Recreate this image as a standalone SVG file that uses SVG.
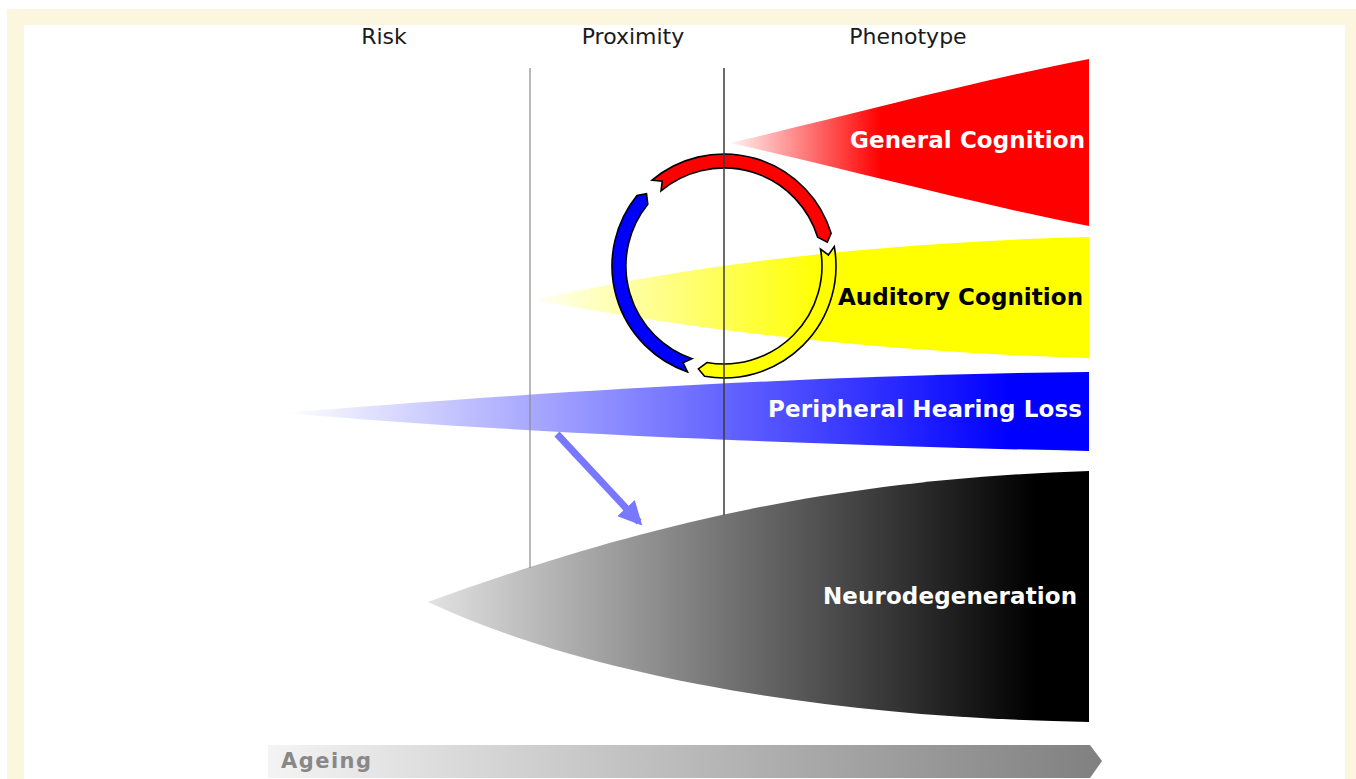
<svg xmlns="http://www.w3.org/2000/svg" width="1356" height="779" viewBox="0 0 1356 779">
<defs>
<style>
.hdr{font-family:"DejaVu Sans",Verdana,sans-serif;font-size:22px;fill:#1a1a1a;text-anchor:middle}
.lbl{font-family:"DejaVu Sans",Verdana,sans-serif;font-size:23px;font-weight:bold;text-anchor:end}
.arc{stroke:#000;stroke-width:1.6;stroke-linejoin:miter}
.vline{stroke-width:2;fill:none}
</style>
<linearGradient id="gRed" gradientUnits="userSpaceOnUse" x1="730" y1="0" x2="1089" y2="0">
<stop offset="0" stop-color="#fff4f4"/><stop offset="0.42" stop-color="#ff0000"/><stop offset="1" stop-color="#ff0000"/>
</linearGradient>
<linearGradient id="gYel" gradientUnits="userSpaceOnUse" x1="535" y1="0" x2="1089" y2="0">
<stop offset="0" stop-color="#fffff4"/><stop offset="0.52" stop-color="#ffff00"/><stop offset="1" stop-color="#ffff00"/>
</linearGradient>
<linearGradient id="gBlu" gradientUnits="userSpaceOnUse" x1="285" y1="0" x2="1089" y2="0">
<stop offset="0" stop-color="#ffffff"/><stop offset="0.9" stop-color="#0000ff"/><stop offset="1" stop-color="#0000ff"/>
</linearGradient>
<linearGradient id="gBlk" gradientUnits="userSpaceOnUse" x1="428" y1="0" x2="1089" y2="0">
<stop offset="0" stop-color="#e2e2e2"/><stop offset="0.92" stop-color="#000000"/><stop offset="1" stop-color="#000000"/>
</linearGradient>
<linearGradient id="gAge" gradientUnits="userSpaceOnUse" x1="268" y1="0" x2="1102" y2="0">
<stop offset="0" stop-color="#f4f4f4"/><stop offset="1" stop-color="#808080"/>
</linearGradient>
<marker id="mHead" viewBox="0 0 10 10" refX="8" refY="5" markerWidth="3.4" markerHeight="3.4" orient="auto" markerUnits="strokeWidth">
<path d="M0,0 L10,5 L0,10 Z" fill="#7878ff"/>
</marker>
</defs>

<rect x="7" y="9" width="1349" height="770" fill="#fdf6df"/>
<rect x="24" y="25" width="1321" height="754" fill="#ffffff"/>

<g id="headers">
<text class="hdr" x="384" y="44">Risk</text>
<text class="hdr" x="633" y="44">Proximity</text>
<text class="hdr" x="908" y="44">Phenotype</text>
</g>

<g id="general-cognition">
<path d="M730,143 C850,115 980,80 1089,59 L1089,226 C980,205 850,170 730,143 Z" fill="url(#gRed)"/>
<text class="lbl" x="1085" y="148" fill="#ffffff" textLength="235">General Cognition</text>
</g>

<g id="auditory-cognition">
<path d="M535,300 Q780,245 1089,237 L1089,358 Q800,350 535,300 Z" fill="url(#gYel)"/>
</g>

<g id="peripheral-hearing-loss">
<path d="M285,413 C500,395 800,375 1089,372 L1089,451 C800,445 500,432 285,413 Z" fill="url(#gBlu)"/>
<text class="lbl" x="1082" y="417" fill="#ffffff" textLength="314">Peripheral Hearing Loss</text>
</g>

<g id="neurodegeneration">
<path d="M428,602 C600,540 800,480 1089,471 L1089,722 C850,718 600,682 428,602 Z" fill="url(#gBlk)"/>
<text class="lbl" x="1077" y="604" fill="#ffffff" textLength="254">Neurodegeneration</text>
</g>

<g id="cycle">
<path class="arc" fill="#ff0000" d="M652.0,180.2 A112,112 0 0 1 831.1,233.3 L827.3,242.2 L817.7,237.3 A98,98 0 0 0 661.0,190.9 L662.3,181.1 Z"/>
<path class="arc" fill="#ffff00" d="M834.3,246.6 A112,112 0 0 1 704.6,376.3 L698.4,368.9 L707.0,362.5 A98,98 0 0 0 820.5,249.0 L828.4,255.0 Z"/>
<path class="arc" fill="#0000ff" d="M687.5,371.9 A112,112 0 0 1 637.0,195.5 L646.5,193.7 L647.8,204.3 A98,98 0 0 0 692.1,358.7 L683.0,362.7 Z"/>
</g>

<g id="auditory-label">
<text class="lbl" x="1083" y="305" fill="#000000" textLength="245">Auditory Cognition</text>
</g>

<g id="axes">
<line class="vline" x1="530" y1="68" x2="530" y2="568" stroke="#8a8a8a" stroke-opacity="0.6"/>
<line class="vline" x1="724" y1="68" x2="724" y2="515" stroke="#3a3a3a" stroke-opacity="0.75"/>
</g>

<g id="connectors">
<line x1="557" y1="434" x2="639" y2="522" stroke="#7878ff" stroke-width="7" marker-end="url(#mHead)"/>
</g>

<g id="ageing">
<path d="M268,745 L1090,745 L1102,761 L1090,778 L268,778 Z" fill="url(#gAge)"/>
<text x="281" y="768" font-family="'DejaVu Sans',Verdana,sans-serif" font-size="21" font-weight="bold" fill="#888888" textLength="90">Ageing</text>
</g>
</svg>
